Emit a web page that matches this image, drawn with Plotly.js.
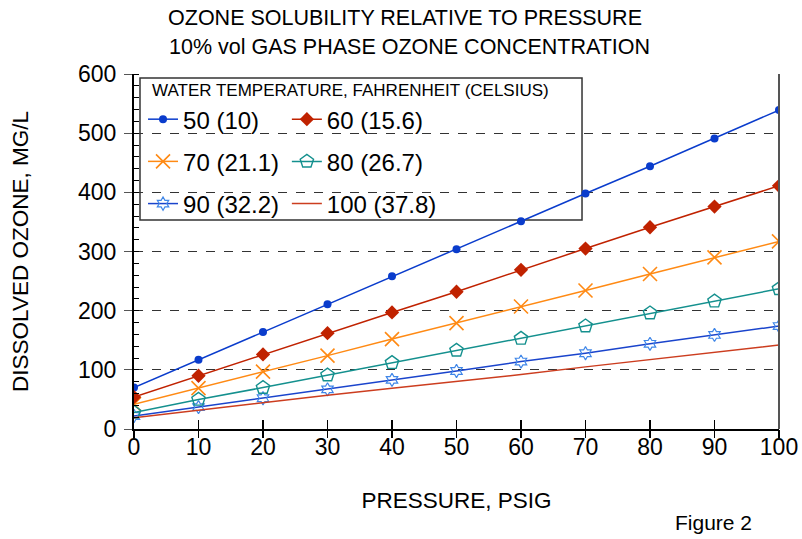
<!DOCTYPE html>
<html>
<head>
<meta charset="utf-8">
<script src="https://cdn.plot.ly/plotly-3.0.1.min.js"></script>
<style>html,body{margin:0;padding:0;background:#fff;}#chart{width:802px;height:539px;}</style>
</head>
<body>
<div id="chart"></div>
<script>
// Pressure, psig
const pressure = [0, 10, 20, 30, 40, 50, 60, 70, 80, 90, 100];
// Dissolved ozone, mg/L, by water temperature
const t50  = [70, 117, 164, 211, 258, 304, 351, 398, 444, 491, 539];
const t60  = [54, 90, 126, 162, 197, 232, 269, 305, 341, 376, 411];
const t70  = [42, 69, 97, 124, 152, 179, 207, 234, 262, 290, 317];
const t80  = [28, 50, 70, 91, 112, 133, 153, 174, 196, 216, 237];
const t90  = [22, 37, 52, 67, 83, 98, 114, 128, 144, 159, 174];
const t100 = [19, 32, 44, 57, 69, 80, 92, 105, 117, 130, 142];
const seriesNames = ["50 (10)", "60 (15.6)", "70 (21.1)", "80 (26.7)", "90 (32.2)", "100 (37.8)"];
const yTicks = [0, 100, 200, 300, 400, 500, 600];
const xTicks = [0, 10, 20, 30, 40, 50, 60, 70, 80, 90, 100];

const FONT = "Liberation Sans, Arial, Helvetica, sans-serif";

function tr(y, name, legend, color, lineW, marker, mode) {
  return {
    x: pressure, y: y, name: name, type: "scatter", mode: mode || "lines+markers",
    legend: legend, legendgroup: name,
    line: {color: color, width: lineW},
    marker: marker
  };
}

const data = [
  tr(t50, seriesNames[0], "legend", "#0a3ccc", 1.5, {symbol: "circle", size: 8, color: "#0a3ccc"}),
  tr(t70, seriesNames[2], "legend", "#ff8a14", 1.5, {symbol: "x-thin-open", size: 14, color: "#ff8a14", line: {color: "#ff8a14", width: 1.6}}),
  tr(t90, seriesNames[4], "legend", "#1a44cc", 1.5, {symbol: "hexagram-open", size: 10, color: "#3f86e8", line: {color: "#3f86e8", width: 1.2}}),
  tr(t60, seriesNames[1], "legend2", "#c02200", 1.5, {symbol: "diamond", size: 11, color: "#c02200"}),
  tr(t80, seriesNames[3], "legend2", "#14908e", 1.5, {symbol: "pentagon-open", size: 14, color: "#14908e", line: {color: "#14908e", width: 1.4}}),
  tr(t100, seriesNames[5], "legend2", "#cc3d1f", 1.5, {}, "lines"),
  // overlay axis carrying the outward half of the crossing x ticks
  {x: pressure, y: t50, xaxis: "x2", yaxis: "y", mode: "lines", line: {width: 0}, showlegend: false, hoverinfo: "skip", opacity: 0}
];

const layout = {
  width: 802, height: 539,
  margin: {l: 134, r: 23, t: 74, b: 110},
  paper_bgcolor: "#ffffff", plot_bgcolor: "#ffffff",
  font: {family: FONT, color: "#000"},
  title: {text: "OZONE SOLUBILITY RELATIVE TO PRESSURE", font: {family: FONT, size: 21.5, color: "#000"},
          x: 0.505, xref: "container", xanchor: "center", y: 0.968, yref: "container", yanchor: "middle"},
  xaxis: {
    range: [0, 100], tickvals: xTicks, ticktext: xTicks.map(String),
    showgrid: false, zeroline: false,
    showline: true, linecolor: "#000", linewidth: 2,
    ticks: "inside", ticklen: 9, tickwidth: 1.5, tickcolor: "#000",
    ticklabelstandoff: -4,
    tickfont: {family: FONT, size: 23, color: "#000"},
    title: {text: "PRESSURE, PSIG", font: {family: FONT, size: 22.5, color: "#000"}, standoff: 34}
  },
  xaxis2: {
    overlaying: "x", matches: "x", anchor: "y", side: "bottom",
    range: [0, 100], tickvals: xTicks, showticklabels: false,
    showgrid: false, zeroline: false, showline: false,
    ticks: "outside", ticklen: 8, tickwidth: 1.5, tickcolor: "#000"
  },
  yaxis: {
    range: [0, 600], tickvals: yTicks, ticktext: yTicks.map(String),
    showgrid: true, gridcolor: "#333", gridwidth: 1, griddash: "dash",
    zeroline: false,
    showline: true, linecolor: "#000", linewidth: 2,
    ticks: "outside", ticklen: 8, tickwidth: 1, tickcolor: "#555",
    ticklabelstandoff: 3,
    minor: {ticks: "inside", dtick: 20, ticklen: 5, tickwidth: 1, tickcolor: "#000", showgrid: false},
    tickfont: {family: FONT, size: 23, color: "#000"},
    title: {text: "DISSOLVED OZONE, MG/L", font: {family: FONT, size: 22.5, color: "#000"}, standoff: 43}
  },
  legend: {
    x: 0.014, y: 0.935, xanchor: "left", yanchor: "top",
    bgcolor: "rgba(0,0,0,0)", borderwidth: 0,
    font: {family: FONT, size: 24, color: "#000"},
    tracegroupgap: 8, itemwidth: 30, traceorder: "grouped"
  },
  legend2: {
    x: 0.237, y: 0.935, xanchor: "left", yanchor: "top",
    bgcolor: "rgba(0,0,0,0)", borderwidth: 0,
    font: {family: FONT, size: 24, color: "#000"},
    tracegroupgap: 8, itemwidth: 30, traceorder: "grouped"
  },
  shapes: [
    {type: "rect", xref: "paper", yref: "paper", x0: 0.0093, x1: 0.6946, y0: 0.5887, y1: 0.9887,
     fillcolor: "#ffffff", line: {color: "#333", width: 1.5}, layer: "between"},
    {type: "line", xref: "paper", yref: "paper", x0: 1, x1: 1, y0: 0, y1: 1,
     line: {color: "#555", width: 2}}
  ],
  annotations: [
    {text: "10% vol GAS PHASE OZONE CONCENTRATION", xref: "paper", yref: "paper",
     x: (409 - 134) / 645, y: (429 - 47) / 355, xanchor: "center", yanchor: "middle",
     showarrow: false, font: {family: FONT, size: 21.5, color: "#000"}},
    {text: "WATER TEMPERATURE, FAHRENHEIT (CELSIUS)", xref: "paper", yref: "paper",
     x: (150 - 134) / 645, y: (429 - 90) / 355, xanchor: "left", yanchor: "middle",
     showarrow: false, font: {family: FONT, size: 17, color: "#000"}},
    {text: "Figure 2", xref: "paper", yref: "paper",
     x: (713 - 134) / 645, y: (429 - 522) / 355, xanchor: "center", yanchor: "middle",
     showarrow: false, font: {family: FONT, size: 21, color: "#000"}}
  ],
  showlegend: true
};

Plotly.newPlot("chart", data, layout, {displayModeBar: false, staticPlot: true});
</script>
</body>
</html>
